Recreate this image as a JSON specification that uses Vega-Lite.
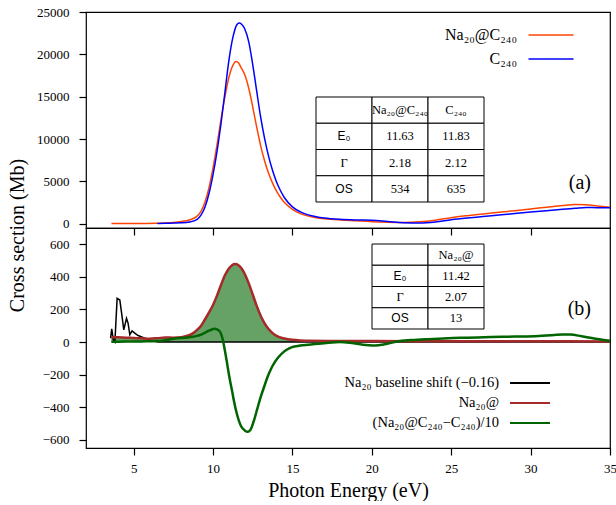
{
  "$schema": "https://vega.github.io/schema/vega-lite/v6.json",
  "background": "white",
  "padding": {"left": 6, "top": 5, "right": 0, "bottom": 0},
  "bounds": "flush",
  "spacing": 0,
  "resolve": {"scale": {"color": "independent"}, "legend": {"color": "independent"}},
  "config": {
    "font": "Liberation Serif",
    "view": {"stroke": "black", "strokeWidth": 1.2},
    "axis": {"domain": false, "grid": false, "ticks": true, "tickSize": 7, "tickColor": "#000000", "tickWidth": 1, "labelFont": "Liberation Serif", "labelFontSize": 13, "labelColor": "black", "titleFont": "Liberation Serif", "titleFontSize": 20, "titleFontWeight": "normal", "titleColor": "black", "labelFlush": false, "labelOverlap": false},
    "title": {"font": "Liberation Serif", "fontWeight": "normal", "color": "black"}
  },
  "datasets": {
    "xt": [{"v":3,"k":"m"},{"v":4,"k":"m"},{"v":5,"k":"M"},{"v":6,"k":"m"},{"v":7,"k":"m"},{"v":8,"k":"m"},{"v":9,"k":"m"},{"v":10,"k":"M"},{"v":11,"k":"m"},{"v":12,"k":"m"},{"v":13,"k":"m"},{"v":14,"k":"m"},{"v":15,"k":"M"},{"v":16,"k":"m"},{"v":17,"k":"m"},{"v":18,"k":"m"},{"v":19,"k":"m"},{"v":20,"k":"M"},{"v":21,"k":"m"},{"v":22,"k":"m"},{"v":23,"k":"m"},{"v":24,"k":"m"},{"v":25,"k":"M"},{"v":26,"k":"m"},{"v":27,"k":"m"},{"v":28,"k":"m"},{"v":29,"k":"m"},{"v":30,"k":"M"},{"v":31,"k":"m"},{"v":32,"k":"m"},{"v":33,"k":"m"},{"v":34,"k":"m"}],
    "yt1": [{"v":0,"k":"M"},{"v":1000,"k":"m"},{"v":2000,"k":"m"},{"v":3000,"k":"m"},{"v":4000,"k":"m"},{"v":5000,"k":"M"},{"v":6000,"k":"m"},{"v":7000,"k":"m"},{"v":8000,"k":"m"},{"v":9000,"k":"m"},{"v":10000,"k":"M"},{"v":11000,"k":"m"},{"v":12000,"k":"m"},{"v":13000,"k":"m"},{"v":14000,"k":"m"},{"v":15000,"k":"M"},{"v":16000,"k":"m"},{"v":17000,"k":"m"},{"v":18000,"k":"m"},{"v":19000,"k":"m"},{"v":20000,"k":"M"},{"v":21000,"k":"m"},{"v":22000,"k":"m"},{"v":23000,"k":"m"},{"v":24000,"k":"m"}],
    "yt2": [{"v":-600,"k":"M"},{"v":-550,"k":"m"},{"v":-500,"k":"m"},{"v":-450,"k":"m"},{"v":-400,"k":"M"},{"v":-350,"k":"m"},{"v":-300,"k":"m"},{"v":-250,"k":"m"},{"v":-200,"k":"M"},{"v":-150,"k":"m"},{"v":-100,"k":"m"},{"v":-50,"k":"m"},{"v":0,"k":"M"},{"v":50,"k":"m"},{"v":100,"k":"m"},{"v":150,"k":"m"},{"v":200,"k":"M"},{"v":250,"k":"m"},{"v":300,"k":"m"},{"v":350,"k":"m"},{"v":400,"k":"M"},{"v":450,"k":"m"},{"v":500,"k":"m"},{"v":550,"k":"m"},{"v":600,"k":"M"},{"v":650,"k":"m"}],
    "top": [
      {"series":"Na₂₀@C₂₄₀","E":3.6,"cs":20},{"series":"Na₂₀@C₂₄₀","E":4.5,"cs":30},{"series":"Na₂₀@C₂₄₀","E":5.5,"cs":40},{"series":"Na₂₀@C₂₄₀","E":6.5,"cs":60},{"series":"Na₂₀@C₂₄₀","E":7,"cs":90},{"series":"Na₂₀@C₂₄₀","E":7.5,"cs":150},{"series":"Na₂₀@C₂₄₀","E":8,"cs":260},{"series":"Na₂₀@C₂₄₀","E":8.5,"cs":450},{"series":"Na₂₀@C₂₄₀","E":9,"cs":900},{"series":"Na₂₀@C₂₄₀","E":9.25,"cs":1500},{"series":"Na₂₀@C₂₄₀","E":9.5,"cs":2600},{"series":"Na₂₀@C₂₄₀","E":9.75,"cs":4300},{"series":"Na₂₀@C₂₄₀","E":10,"cs":6600},{"series":"Na₂₀@C₂₄₀","E":10.25,"cs":9300},{"series":"Na₂₀@C₂₄₀","E":10.5,"cs":12300},{"series":"Na₂₀@C₂₄₀","E":10.75,"cs":15000},{"series":"Na₂₀@C₂₄₀","E":11,"cs":17300},{"series":"Na₂₀@C₂₄₀","E":11.25,"cs":18700},{"series":"Na₂₀@C₂₄₀","E":11.45,"cs":19150},{"series":"Na₂₀@C₂₄₀","E":11.6,"cs":19000},{"series":"Na₂₀@C₂₄₀","E":11.75,"cs":18500},{"series":"Na₂₀@C₂₄₀","E":12,"cs":17600},{"series":"Na₂₀@C₂₄₀","E":12.25,"cs":16000},{"series":"Na₂₀@C₂₄₀","E":12.5,"cs":13800},{"series":"Na₂₀@C₂₄₀","E":12.75,"cs":11400},{"series":"Na₂₀@C₂₄₀","E":13,"cs":9200},{"series":"Na₂₀@C₂₄₀","E":13.25,"cs":7400},{"series":"Na₂₀@C₂₄₀","E":13.5,"cs":5950},{"series":"Na₂₀@C₂₄₀","E":13.75,"cs":4800},{"series":"Na₂₀@C₂₄₀","E":14,"cs":3850},{"series":"Na₂₀@C₂₄₀","E":14.25,"cs":3100},{"series":"Na₂₀@C₂₄₀","E":14.5,"cs":2500},{"series":"Na₂₀@C₂₄₀","E":15,"cs":1700},{"series":"Na₂₀@C₂₄₀","E":15.5,"cs":1200},{"series":"Na₂₀@C₂₄₀","E":16,"cs":900},{"series":"Na₂₀@C₂₄₀","E":16.5,"cs":720},{"series":"Na₂₀@C₂₄₀","E":17,"cs":600},{"series":"Na₂₀@C₂₄₀","E":18,"cs":450},{"series":"Na₂₀@C₂₄₀","E":19,"cs":350},{"series":"Na₂₀@C₂₄₀","E":20,"cs":250},{"series":"Na₂₀@C₂₄₀","E":21,"cs":190},{"series":"Na₂₀@C₂₄₀","E":22,"cs":160},{"series":"Na₂₀@C₂₄₀","E":23,"cs":230},{"series":"Na₂₀@C₂₄₀","E":24,"cs":420},{"series":"Na₂₀@C₂₄₀","E":25,"cs":720},{"series":"Na₂₀@C₂₄₀","E":26,"cs":950},{"series":"Na₂₀@C₂₄₀","E":27,"cs":1150},{"series":"Na₂₀@C₂₄₀","E":28,"cs":1350},{"series":"Na₂₀@C₂₄₀","E":29,"cs":1550},{"series":"Na₂₀@C₂₄₀","E":30,"cs":1750},{"series":"Na₂₀@C₂₄₀","E":31,"cs":1950},{"series":"Na₂₀@C₂₄₀","E":32,"cs":2150},{"series":"Na₂₀@C₂₄₀","E":32.8,"cs":2280},{"series":"Na₂₀@C₂₄₀","E":33.5,"cs":2250},{"series":"Na₂₀@C₂₄₀","E":34.2,"cs":2100},{"series":"Na₂₀@C₂₄₀","E":35,"cs":1950},
      {"series":"C₂₄₀","E":6.5,"cs":30},{"series":"C₂₄₀","E":7,"cs":55},{"series":"C₂₄₀","E":7.5,"cs":80},{"series":"C₂₄₀","E":8,"cs":110},{"series":"C₂₄₀","E":8.5,"cs":200},{"series":"C₂₄₀","E":9,"cs":520},{"series":"C₂₄₀","E":9.25,"cs":1040},{"series":"C₂₄₀","E":9.5,"cs":2020},{"series":"C₂₄₀","E":9.75,"cs":3600},{"series":"C₂₄₀","E":10,"cs":5800},{"series":"C₂₄₀","E":10.25,"cs":8520},{"series":"C₂₄₀","E":10.5,"cs":11780},{"series":"C₂₄₀","E":10.75,"cs":15550},{"series":"C₂₄₀","E":11,"cs":19300},{"series":"C₂₄₀","E":11.25,"cs":22000},{"series":"C₂₄₀","E":11.5,"cs":23500},{"series":"C₂₄₀","E":11.65,"cs":23700},{"series":"C₂₄₀","E":11.8,"cs":23550},{"series":"C₂₄₀","E":12,"cs":23000},{"series":"C₂₄₀","E":12.25,"cs":21480},{"series":"C₂₄₀","E":12.5,"cs":18800},{"series":"C₂₄₀","E":12.75,"cs":15650},{"series":"C₂₄₀","E":13,"cs":12580},{"series":"C₂₄₀","E":13.25,"cs":10050},{"series":"C₂₄₀","E":13.5,"cs":7950},{"series":"C₂₄₀","E":13.75,"cs":6280},{"series":"C₂₄₀","E":14,"cs":4930},{"series":"C₂₄₀","E":14.25,"cs":3900},{"series":"C₂₄₀","E":14.5,"cs":3070},{"series":"C₂₄₀","E":15,"cs":2000},{"series":"C₂₄₀","E":15.5,"cs":1410},{"series":"C₂₄₀","E":16,"cs":1050},{"series":"C₂₄₀","E":16.5,"cs":830},{"series":"C₂₄₀","E":17,"cs":680},{"series":"C₂₄₀","E":18,"cs":520},{"series":"C₂₄₀","E":19,"cs":450},{"series":"C₂₄₀","E":20,"cs":420},{"series":"C₂₄₀","E":21,"cs":280},{"series":"C₂₄₀","E":22,"cs":130},{"series":"C₂₄₀","E":23,"cs":100},{"series":"C₂₄₀","E":24,"cs":220},{"series":"C₂₄₀","E":25,"cs":480},{"series":"C₂₄₀","E":26,"cs":680},{"series":"C₂₄₀","E":27,"cs":850},{"series":"C₂₄₀","E":28,"cs":1030},{"series":"C₂₄₀","E":29,"cs":1210},{"series":"C₂₄₀","E":30,"cs":1390},{"series":"C₂₄₀","E":31,"cs":1550},{"series":"C₂₄₀","E":32,"cs":1700},{"series":"C₂₄₀","E":32.8,"cs":1820},{"series":"C₂₄₀","E":33.5,"cs":1920},{"series":"C₂₄₀","E":34.2,"cs":1900},{"series":"C₂₄₀","E":35,"cs":1900}
    ],
    "bottom": [
      {"series":"Na₂₀ baseline shift (−0.16)","E":3.55,"cs":24},{"series":"Na₂₀ baseline shift (−0.16)","E":3.62,"cs":81},{"series":"Na₂₀ baseline shift (−0.16)","E":3.72,"cs":14},{"series":"Na₂₀ baseline shift (−0.16)","E":3.82,"cs":0},{"series":"Na₂₀ baseline shift (−0.16)","E":3.96,"cs":268},{"series":"Na₂₀ baseline shift (−0.16)","E":4.13,"cs":258},{"series":"Na₂₀ baseline shift (−0.16)","E":4.23,"cs":187},{"series":"Na₂₀ baseline shift (−0.16)","E":4.38,"cs":75},{"series":"Na₂₀ baseline shift (−0.16)","E":4.55,"cs":146},{"series":"Na₂₀ baseline shift (−0.16)","E":4.65,"cs":116},{"series":"Na₂₀ baseline shift (−0.16)","E":4.76,"cs":45},{"series":"Na₂₀ baseline shift (−0.16)","E":4.9,"cs":69},{"series":"Na₂₀ baseline shift (−0.16)","E":5.07,"cs":55},{"series":"Na₂₀ baseline shift (−0.16)","E":5.28,"cs":40},{"series":"Na₂₀ baseline shift (−0.16)","E":5.7,"cs":24},{"series":"Na₂₀ baseline shift (−0.16)","E":6.12,"cs":8},{"series":"Na₂₀ baseline shift (−0.16)","E":6.54,"cs":0},{"series":"Na₂₀ baseline shift (−0.16)","E":10,"cs":0},{"series":"Na₂₀ baseline shift (−0.16)","E":15,"cs":0},{"series":"Na₂₀ baseline shift (−0.16)","E":20,"cs":0},{"series":"Na₂₀ baseline shift (−0.16)","E":25,"cs":0},{"series":"Na₂₀ baseline shift (−0.16)","E":30,"cs":0},{"series":"Na₂₀ baseline shift (−0.16)","E":35,"cs":0},
      {"series":"Na₂₀@","E":3.6,"cs":30},{"series":"Na₂₀@","E":4,"cs":29},{"series":"Na₂₀@","E":4.5,"cs":27},{"series":"Na₂₀@","E":5,"cs":25},{"series":"Na₂₀@","E":5.5,"cs":23},{"series":"Na₂₀@","E":6,"cs":21},{"series":"Na₂₀@","E":6.5,"cs":24},{"series":"Na₂₀@","E":7,"cs":28},{"series":"Na₂₀@","E":7.5,"cs":27},{"series":"Na₂₀@","E":8,"cs":30},{"series":"Na₂₀@","E":8.5,"cs":42},{"series":"Na₂₀@","E":8.75,"cs":55},{"series":"Na₂₀@","E":9,"cs":75},{"series":"Na₂₀@","E":9.25,"cs":100},{"series":"Na₂₀@","E":9.5,"cs":140},{"series":"Na₂₀@","E":9.75,"cs":182},{"series":"Na₂₀@","E":10,"cs":228},{"series":"Na₂₀@","E":10.25,"cs":285},{"series":"Na₂₀@","E":10.5,"cs":350},{"series":"Na₂₀@","E":10.75,"cs":410},{"series":"Na₂₀@","E":11,"cs":452},{"series":"Na₂₀@","E":11.2,"cs":472},{"series":"Na₂₀@","E":11.4,"cs":479},{"series":"Na₂₀@","E":11.6,"cs":472},{"series":"Na₂₀@","E":11.8,"cs":452},{"series":"Na₂₀@","E":12,"cs":418},{"series":"Na₂₀@","E":12.25,"cs":360},{"series":"Na₂₀@","E":12.5,"cs":292},{"series":"Na₂₀@","E":12.75,"cs":222},{"series":"Na₂₀@","E":13,"cs":162},{"series":"Na₂₀@","E":13.25,"cs":115},{"series":"Na₂₀@","E":13.5,"cs":80},{"series":"Na₂₀@","E":13.75,"cs":55},{"series":"Na₂₀@","E":14,"cs":38},{"series":"Na₂₀@","E":14.5,"cs":22},{"series":"Na₂₀@","E":15,"cs":14},{"series":"Na₂₀@","E":15.5,"cs":10},{"series":"Na₂₀@","E":16,"cs":8},{"series":"Na₂₀@","E":18,"cs":7},{"series":"Na₂₀@","E":20,"cs":6},{"series":"Na₂₀@","E":25,"cs":5},{"series":"Na₂₀@","E":30,"cs":5},{"series":"Na₂₀@","E":35,"cs":4},
      {"series":"(Na₂₀@C₂₄₀−C₂₄₀)/10","E":3.6,"cs":2},{"series":"(Na₂₀@C₂₄₀−C₂₄₀)/10","E":4.5,"cs":3},{"series":"(Na₂₀@C₂₄₀−C₂₄₀)/10","E":5.5,"cs":4},{"series":"(Na₂₀@C₂₄₀−C₂₄₀)/10","E":6.5,"cs":6},{"series":"(Na₂₀@C₂₄₀−C₂₄₀)/10","E":7,"cs":12},{"series":"(Na₂₀@C₂₄₀−C₂₄₀)/10","E":7.5,"cs":20},{"series":"(Na₂₀@C₂₄₀−C₂₄₀)/10","E":8,"cs":25},{"series":"(Na₂₀@C₂₄₀−C₂₄₀)/10","E":8.5,"cs":29},{"series":"(Na₂₀@C₂₄₀−C₂₄₀)/10","E":9,"cs":38},{"series":"(Na₂₀@C₂₄₀−C₂₄₀)/10","E":9.25,"cs":46},{"series":"(Na₂₀@C₂₄₀−C₂₄₀)/10","E":9.5,"cs":58},{"series":"(Na₂₀@C₂₄₀−C₂₄₀)/10","E":9.75,"cs":70},{"series":"(Na₂₀@C₂₄₀−C₂₄₀)/10","E":10,"cs":80},{"series":"(Na₂₀@C₂₄₀−C₂₄₀)/10","E":10.1,"cs":82},{"series":"(Na₂₀@C₂₄₀−C₂₄₀)/10","E":10.25,"cs":78},{"series":"(Na₂₀@C₂₄₀−C₂₄₀)/10","E":10.4,"cs":68},{"series":"(Na₂₀@C₂₄₀−C₂₄₀)/10","E":10.5,"cs":52},{"series":"(Na₂₀@C₂₄₀−C₂₄₀)/10","E":10.6,"cs":20},{"series":"(Na₂₀@C₂₄₀−C₂₄₀)/10","E":10.7,"cs":-27},{"series":"(Na₂₀@C₂₄₀−C₂₄₀)/10","E":10.85,"cs":-110},{"series":"(Na₂₀@C₂₄₀−C₂₄₀)/10","E":11.02,"cs":-210},{"series":"(Na₂₀@C₂₄₀−C₂₄₀)/10","E":11.2,"cs":-300},{"series":"(Na₂₀@C₂₄₀−C₂₄₀)/10","E":11.34,"cs":-372},{"series":"(Na₂₀@C₂₄₀−C₂₄₀)/10","E":11.5,"cs":-440},{"series":"(Na₂₀@C₂₄₀−C₂₄₀)/10","E":11.76,"cs":-515},{"series":"(Na₂₀@C₂₄₀−C₂₄₀)/10","E":12,"cs":-542},{"series":"(Na₂₀@C₂₄₀−C₂₄₀)/10","E":12.18,"cs":-551},{"series":"(Na₂₀@C₂₄₀−C₂₄₀)/10","E":12.35,"cs":-540},{"series":"(Na₂₀@C₂₄₀−C₂₄₀)/10","E":12.6,"cs":-474},{"series":"(Na₂₀@C₂₄₀−C₂₄₀)/10","E":12.8,"cs":-405},{"series":"(Na₂₀@C₂₄₀−C₂₄₀)/10","E":13.02,"cs":-332},{"series":"(Na₂₀@C₂₄₀−C₂₄₀)/10","E":13.25,"cs":-265},{"series":"(Na₂₀@C₂₄₀−C₂₄₀)/10","E":13.45,"cs":-210},{"series":"(Na₂₀@C₂₄₀−C₂₄₀)/10","E":13.65,"cs":-165},{"series":"(Na₂₀@C₂₄₀−C₂₄₀)/10","E":13.86,"cs":-128},{"series":"(Na₂₀@C₂₄₀−C₂₄₀)/10","E":14.1,"cs":-95},{"series":"(Na₂₀@C₂₄₀−C₂₄₀)/10","E":14.49,"cs":-57},{"series":"(Na₂₀@C₂₄₀−C₂₄₀)/10","E":14.8,"cs":-38},{"series":"(Na₂₀@C₂₄₀−C₂₄₀)/10","E":15.12,"cs":-27},{"series":"(Na₂₀@C₂₄₀−C₂₄₀)/10","E":15.5,"cs":-21},{"series":"(Na₂₀@C₂₄₀−C₂₄₀)/10","E":16,"cs":-16},{"series":"(Na₂₀@C₂₄₀−C₂₄₀)/10","E":16.4,"cs":-12},{"series":"(Na₂₀@C₂₄₀−C₂₄₀)/10","E":17,"cs":-7},{"series":"(Na₂₀@C₂₄₀−C₂₄₀)/10","E":18,"cs":0},{"series":"(Na₂₀@C₂₄₀−C₂₄₀)/10","E":18.6,"cs":-4},{"series":"(Na₂₀@C₂₄₀−C₂₄₀)/10","E":19.3,"cs":-14},{"series":"(Na₂₀@C₂₄₀−C₂₄₀)/10","E":20.2,"cs":-21},{"series":"(Na₂₀@C₂₄₀−C₂₄₀)/10","E":20.8,"cs":-14},{"series":"(Na₂₀@C₂₄₀−C₂₄₀)/10","E":21.6,"cs":4},{"series":"(Na₂₀@C₂₄₀−C₂₄₀)/10","E":22.5,"cs":12},{"series":"(Na₂₀@C₂₄₀−C₂₄₀)/10","E":23.5,"cs":18},{"series":"(Na₂₀@C₂₄₀−C₂₄₀)/10","E":24.8,"cs":24},{"series":"(Na₂₀@C₂₄₀−C₂₄₀)/10","E":26,"cs":27},{"series":"(Na₂₀@C₂₄₀−C₂₄₀)/10","E":27.5,"cs":31},{"series":"(Na₂₀@C₂₄₀−C₂₄₀)/10","E":29,"cs":34},{"series":"(Na₂₀@C₂₄₀−C₂₄₀)/10","E":30.5,"cs":38},{"series":"(Na₂₀@C₂₄₀−C₂₄₀)/10","E":31.5,"cs":44},{"series":"(Na₂₀@C₂₄₀−C₂₄₀)/10","E":32,"cs":46},{"series":"(Na₂₀@C₂₄₀−C₂₄₀)/10","E":32.5,"cs":46},{"series":"(Na₂₀@C₂₄₀−C₂₄₀)/10","E":33.2,"cs":36},{"series":"(Na₂₀@C₂₄₀−C₂₄₀)/10","E":34,"cs":22},{"series":"(Na₂₀@C₂₄₀−C₂₄₀)/10","E":34.5,"cs":14},{"series":"(Na₂₀@C₂₄₀−C₂₄₀)/10","E":35,"cs":8}
    ],
    "tableA": [
      {"row":"head","col":"h","text":""},{"row":"head","col":"a","text":"Na₂₀@C₂₄₀"},{"row":"head","col":"b","text":"C₂₄₀"},
      {"row":"E0","col":"h","text":"E₀"},{"row":"E0","col":"a","text":"11.63"},{"row":"E0","col":"b","text":"11.83"},
      {"row":"G","col":"h","text":"Γ"},{"row":"G","col":"a","text":"2.18"},{"row":"G","col":"b","text":"2.12"},
      {"row":"OS","col":"h","text":"OS"},{"row":"OS","col":"a","text":"534"},{"row":"OS","col":"b","text":"635"}
    ],
    "tableB": [
      {"row":"head","col":"h","text":""},{"row":"head","col":"a","text":"Na₂₀@"},
      {"row":"E0","col":"h","text":"E₀"},{"row":"E0","col":"a","text":"11.42"},
      {"row":"G","col":"h","text":"Γ"},{"row":"G","col":"a","text":"2.07"},
      {"row":"OS","col":"h","text":"OS"},{"row":"OS","col":"a","text":"13"}
    ]
  },
  "vconcat": [
    {
      "width": 524,
      "height": 216,
      "title": {"text": "(a)", "orient": "top", "anchor": "end", "frame": "group", "offset": -197, "dx": -19, "baseline": "middle", "fontSize": 20},
      "resolve": {"scale": {"x": "independent", "y": "independent"}},
      "layer": [
        {
          "data": {"name": "top"},
          "encoding": {
            "x": {"field": "E", "type": "quantitative", "scale": {"domain": [2, 35], "nice": false, "zero": false},
              "axis": {"orient": "bottom", "values": [5,10,15,20,25,30], "labels": false, "title": null, "ticks": true, "tickSize": 7, "tickColor": "black", "tickWidth": 1.2, "tickOpacity": 1}},
            "y": {"field": "cs", "type": "quantitative", "scale": {"domain": [-500, 25000], "nice": false, "zero": false},
              "axis": {"orient": "left", "values": [0,5000,10000,15000,20000,25000], "format": "d", "ticks": true, "tickSize": 7, "tickColor": "black", "tickWidth": 1.2, "tickOpacity": 1, "labelPadding": 10,
                "title": "Cross section (Mb)", "titleX": -69, "titleY": 223, "titleAngle": 270, "titleAlign": "center", "titleBaseline": "middle"}}
          },
          "layer": [
            {
              "mark": {"type": "line", "strokeWidth": 1.5, "interpolate": "monotone"},
              "encoding": {
                "color": {"field": "series", "type": "nominal",
                  "scale": {"domain": ["Na₂₀@C₂₄₀", "C₂₄₀"], "range": ["#ff4500", "#0000ff"]},
                  "legend": {"title": null, "orient": "none", "legendX": 455, "legendY": 13, "symbolType": "M-2.5,0L2.5,0", "symbolSize": 324, "symbolStrokeWidth": 1.5, "symbolFillColor": "transparent", "labelFont": "Liberation Serif", "labelFontSize": 16, "labelColor": "black", "labelAlign": "right", "labelOffset": -44, "labelLimit": 400, "rowPadding": 6, "padding": 0}}
              }
            },
            {"data": {"name": "xt"}, "mark": {"type": "tick", "orient": "vertical", "color": "black", "fill": "black", "opacity": 1, "fillOpacity": 1, "thickness": 1.2},
             "encoding": {"x": {"field": "v", "type": "quantitative"}, "y": {"datum": -500}, "size": {"condition": {"test": "datum.k === 'M'", "value": 14}, "value": 8}}},
            {"data": {"name": "xt"}, "mark": {"type": "tick", "orient": "vertical", "color": "black", "fill": "black", "opacity": 1, "fillOpacity": 1, "thickness": 1.2},
             "encoding": {"x": {"field": "v", "type": "quantitative"}, "y": {"datum": 25000}, "size": {"condition": {"test": "datum.k === 'M'", "value": 14}, "value": 8}}},
            {"data": {"name": "yt1"}, "mark": {"type": "tick", "orient": "horizontal", "color": "black", "fill": "black", "opacity": 1, "fillOpacity": 1, "thickness": 1.2},
             "encoding": {"y": {"field": "v", "type": "quantitative"}, "x": {"datum": 2}, "size": {"condition": {"test": "datum.k === 'M'", "value": 14}, "value": 8}}},
            {"data": {"name": "yt1"}, "mark": {"type": "tick", "orient": "horizontal", "color": "black", "fill": "black", "opacity": 1, "fillOpacity": 1, "thickness": 1.2},
             "encoding": {"y": {"field": "v", "type": "quantitative"}, "x": {"datum": 35}, "size": {"condition": {"test": "datum.k === 'M'", "value": 14}, "value": 8}}}
          ]
        },
        {
          "data": {"name": "tableA"},
          "encoding": {
            "x": {"field": "col", "type": "nominal", "axis": null, "scale": {"domain": ["h", "a", "b"], "range": [230, 398], "paddingInner": 0, "paddingOuter": 0}},
            "y": {"field": "row", "type": "nominal", "axis": null, "scale": {"domain": ["head", "E0", "G", "OS"], "range": [85, 190], "paddingInner": 0, "paddingOuter": 0}}
          },
          "layer": [
            {"mark": {"type": "rect", "fill": "white", "stroke": "black", "strokeWidth": 1}},
            {"transform": [{"filter": "datum.col === 'h' && datum.row !== 'G'"}],
             "mark": {"type": "text", "font": "Liberation Sans", "fontSize": 12, "color": "black"},
             "encoding": {"text": {"field": "text"}}},
            {"transform": [{"filter": "!(datum.col === 'h' && datum.row !== 'G')"}],
             "mark": {"type": "text", "font": "Liberation Serif", "fontSize": 12.5, "color": "black"},
             "encoding": {"text": {"field": "text"}}}
          ]
        }
      ]
    },
    {
      "width": 524,
      "height": 220,
      "title": {"text": "(b)", "orient": "top", "anchor": "end", "frame": "group", "offset": -101, "dx": -19, "baseline": "middle", "fontSize": 20},
      "resolve": {"scale": {"x": "independent", "y": "independent"}},
      "layer": [
        {
          "data": {"name": "bottom"},
          "encoding": {
            "x": {"field": "E", "type": "quantitative", "scale": {"domain": [2, 35], "nice": false, "zero": false},
              "axis": {"orient": "bottom", "values": [5,10,15,20,25,30,35], "format": "d", "ticks": true, "tickSize": 7, "tickColor": "black", "tickWidth": 1.2, "tickOpacity": 1, "labelPadding": 7, "title": "Photon Energy (eV)", "titlePadding": 5}},
            "y": {"field": "cs", "type": "quantitative", "scale": {"domain": [-650, 700], "nice": false, "zero": false},
              "axis": {"orient": "left", "values": [-600,-400,-200,0,200,400,600], "format": "d", "ticks": true, "tickSize": 7, "tickColor": "black", "tickWidth": 1.2, "tickOpacity": 1, "labelPadding": 10, "title": null}}
          },
          "layer": [
            {"transform": [{"filter": {"field": "series", "equal": "Na₂₀@"}}],
             "mark": {"type": "area", "color": "#66a266", "interpolate": "monotone"},
             "encoding": {"y2": {"datum": 0}}},
            {"transform": [{"filter": {"field": "series", "equal": "Na₂₀ baseline shift (−0.16)"}}],
             "mark": {"type": "line", "strokeWidth": 1.5, "interpolate": "linear"},
             "encoding": {"color": {"field": "series", "type": "nominal",
               "scale": {"domain": ["Na₂₀ baseline shift (−0.16)", "Na₂₀@", "(Na₂₀@C₂₄₀−C₂₄₀)/10"], "range": ["#000000", "#a52a2a", "#006400"]},
               "legend": {"title": null, "orient": "none", "legendX": 435, "legendY": 146, "symbolType": "M-2.5,0L2.5,0", "symbolSize": 256, "symbolStrokeWidth": 2, "symbolFillColor": "transparent", "labelFont": "Liberation Serif", "labelFontSize": 14.5, "labelColor": "black", "labelAlign": "right", "labelOffset": -40, "labelLimit": 400, "rowPadding": 4, "padding": 0}}}},
            {"transform": [{"filter": {"field": "series", "equal": "Na₂₀@"}}],
             "mark": {"type": "line", "strokeWidth": 2.5, "interpolate": "monotone"},
             "encoding": {"color": {"field": "series", "type": "nominal"}}},
            {"transform": [{"filter": {"field": "series", "equal": "(Na₂₀@C₂₄₀−C₂₄₀)/10"}}],
             "mark": {"type": "line", "strokeWidth": 2.5, "interpolate": "monotone"},
             "encoding": {"color": {"field": "series", "type": "nominal"}}},
            {"data": {"name": "xt"}, "mark": {"type": "tick", "orient": "vertical", "color": "black", "fill": "black", "opacity": 1, "fillOpacity": 1, "thickness": 1.2},
             "encoding": {"x": {"field": "v", "type": "quantitative"}, "y": {"datum": -650}, "size": {"condition": {"test": "datum.k === 'M'", "value": 14}, "value": 8}}},
            {"data": {"name": "xt"}, "mark": {"type": "tick", "orient": "vertical", "color": "black", "fill": "black", "opacity": 1, "fillOpacity": 1, "thickness": 1.2},
             "encoding": {"x": {"field": "v", "type": "quantitative"}, "y": {"datum": 700}, "size": {"condition": {"test": "datum.k === 'M'", "value": 14}, "value": 8}}},
            {"data": {"name": "yt2"}, "mark": {"type": "tick", "orient": "horizontal", "color": "black", "fill": "black", "opacity": 1, "fillOpacity": 1, "thickness": 1.2},
             "encoding": {"y": {"field": "v", "type": "quantitative"}, "x": {"datum": 2}, "size": {"condition": {"test": "datum.k === 'M'", "value": 14}, "value": 8}}},
            {"data": {"name": "yt2"}, "mark": {"type": "tick", "orient": "horizontal", "color": "black", "fill": "black", "opacity": 1, "fillOpacity": 1, "thickness": 1.2},
             "encoding": {"y": {"field": "v", "type": "quantitative"}, "x": {"datum": 35}, "size": {"condition": {"test": "datum.k === 'M'", "value": 14}, "value": 8}}}
          ]
        },
        {
          "data": {"name": "tableB"},
          "encoding": {
            "x": {"field": "col", "type": "nominal", "axis": null, "scale": {"domain": ["h", "a"], "range": [286, 398], "paddingInner": 0, "paddingOuter": 0}},
            "y": {"field": "row", "type": "nominal", "axis": null, "scale": {"domain": ["head", "E0", "G", "OS"], "range": [16, 101], "paddingInner": 0, "paddingOuter": 0}}
          },
          "layer": [
            {"mark": {"type": "rect", "fill": "white", "stroke": "black", "strokeWidth": 1}},
            {"transform": [{"filter": "datum.col === 'h' && datum.row !== 'G'"}],
             "mark": {"type": "text", "font": "Liberation Sans", "fontSize": 12, "color": "black"},
             "encoding": {"text": {"field": "text"}}},
            {"transform": [{"filter": "!(datum.col === 'h' && datum.row !== 'G')"}],
             "mark": {"type": "text", "font": "Liberation Serif", "fontSize": 12.5, "color": "black"},
             "encoding": {"text": {"field": "text"}}}
          ]
        }
      ]
    }
  ]
}
